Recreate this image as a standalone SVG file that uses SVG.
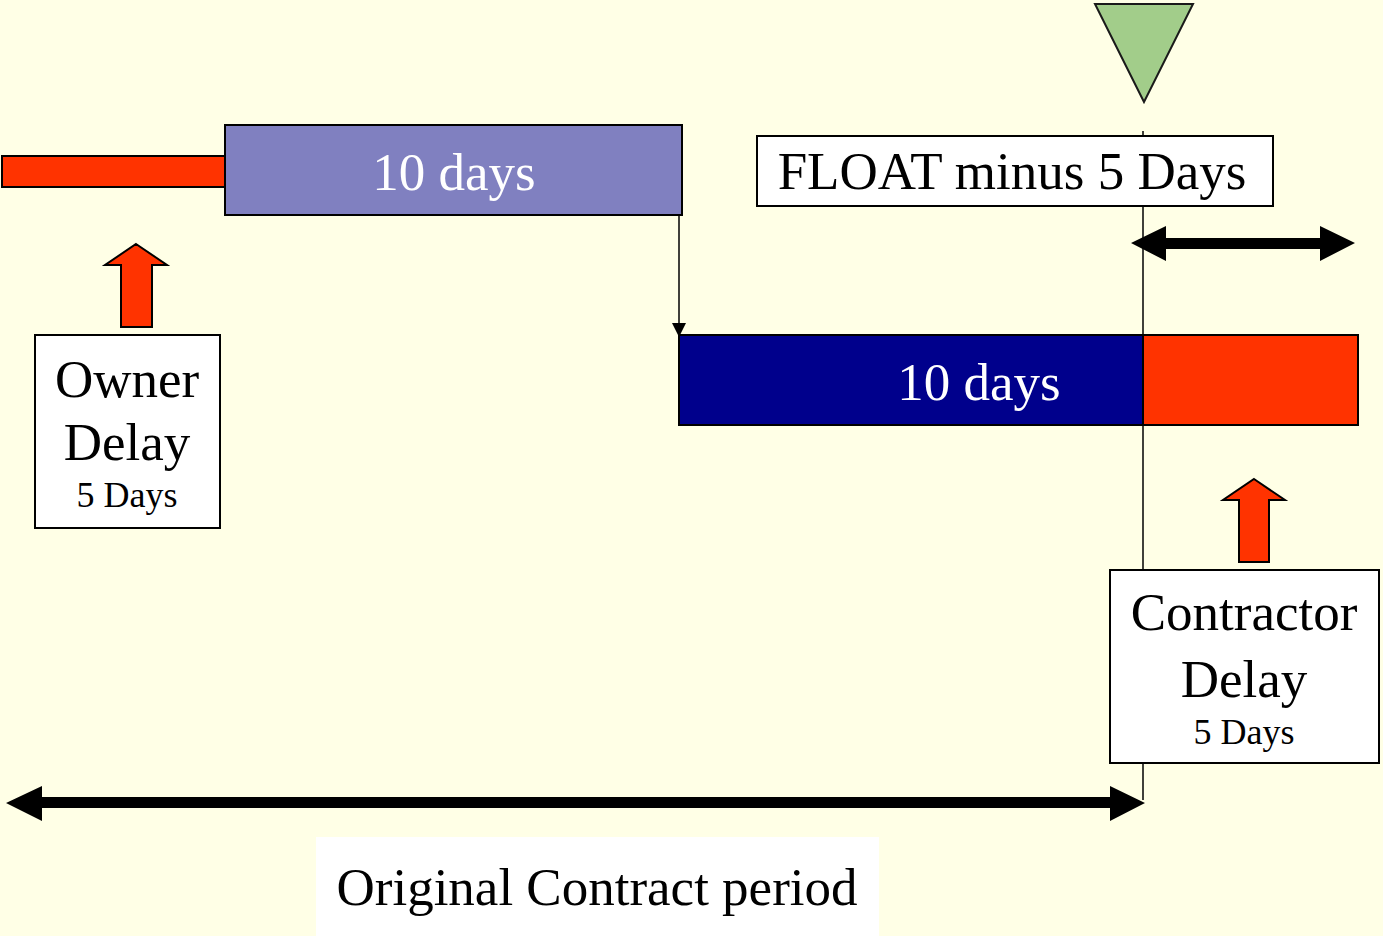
<svg xmlns="http://www.w3.org/2000/svg" width="1383" height="936" viewBox="0 0 1383 936">
<defs>
<style>
.t{font-family:"Liberation Serif","Times New Roman",serif;text-anchor:middle}
.big{font-size:53px}
.small{font-size:36px}
.w{fill:#ffffff}
.k{fill:#000000}
.box{fill:#ffffff;stroke:#000000;stroke-width:2}
.red{fill:#ff3300;stroke:#000000;stroke-width:2}
</style>
</defs>
<rect x="0" y="0" width="1383" height="936" fill="#ffffe6"/>

<g id="connectors">
<line x1="1143" y1="131" x2="1143" y2="800" stroke="#000" stroke-width="1.5"/>
<path d="M679,216 L679,335" stroke="#000" stroke-width="1.5" fill="none"/>
<path d="M672,323 L686,323 L679,337 Z" fill="#000"/>
<path id="float-arrow" d="M1131,243 L1166,226 L1166,238 L1320,238 L1320,226 L1355,243 L1320,261 L1320,249 L1166,249 L1166,261 Z" fill="#000"/>
<path id="contract-arrow" d="M6,803 L42,786 L42,797 L1110,797 L1110,786 L1145,803 L1110,821 L1110,808 L42,808 L42,821 Z" fill="#000"/>
</g>

<g id="owner-delay-bar">
<rect class="red" x="2" y="156" width="223" height="31"/>
</g>

<g id="task1">
<rect x="225" y="125" width="457" height="90" fill="#8080c0" stroke="#000" stroke-width="2"/>
<text class="t big w" x="454" y="190">10 days</text>
</g>

<g id="task2">
<rect x="679" y="335" width="464" height="90" fill="#00008c" stroke="#000" stroke-width="2"/>
<text class="t big w" x="979" y="400">10 days</text>
</g>

<g id="contractor-delay-bar">
<rect class="red" x="1143" y="335" width="215" height="90"/>
</g>

<g id="milestone">
<path d="M1095,4 L1193,4 L1144,102 Z" fill="#a2cd8a" stroke="#1a1a1a" stroke-width="2"/>
</g>

<g id="float-label">
<rect class="box" x="757" y="136" width="516" height="70"/>
<text class="t big k" x="1012" y="189">FLOAT minus 5 Days</text>
</g>

<g id="owner-arrow">
<path class="red" d="M136,244 L167,265 L152,265 L152,327 L121,327 L121,265 L105,265 Z"/>
</g>

<g id="owner-delay">
<rect class="box" x="35" y="335" width="185" height="193"/>
<text class="t big k" x="127" y="397">Owner</text>
<text class="t big k" x="127" y="460">Delay</text>
<text class="t small k" x="127" y="507">5 Days</text>
</g>

<g id="contractor-arrow">
<path class="red" d="M1254,479 L1285,500 L1269,500 L1269,562 L1239,562 L1239,500 L1223,500 Z"/>
</g>

<g id="contractor-delay">
<rect class="box" x="1110" y="570" width="269" height="193"/>
<text class="t big k" x="1244" y="630">Contractor</text>
<text class="t big k" x="1244" y="697">Delay</text>
<text class="t small k" x="1244" y="744">5 Days</text>
</g>

<g id="contract-label">
<rect x="316" y="837" width="563" height="99" fill="#ffffff"/>
<text class="t big k" x="597" y="905">Original Contract period</text>
</g>
</svg>
